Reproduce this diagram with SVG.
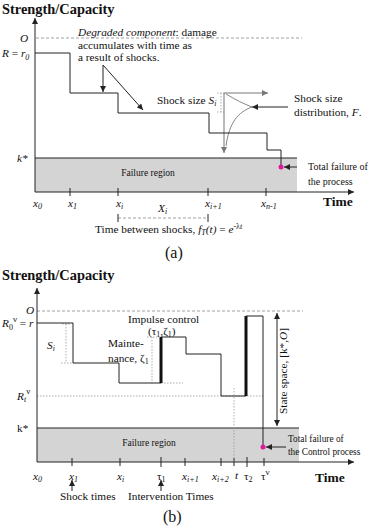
<svg xmlns="http://www.w3.org/2000/svg" width="378" height="526" viewBox="0 0 378 526" font-family="'Liberation Serif', 'DejaVu Serif', serif">
<style>
text{font-family:"Liberation Serif","DejaVu Serif",serif;fill:#111;font-size:11.3px}
.ttl{font-weight:bold;font-size:14.4px}
.tm{font-weight:bold;font-size:13.5px}
.it{font-style:italic}
.sm{font-size:10px}
.xs{font-size:9.3px}
.fr{font-size:9.5px;text-anchor:middle}
.cap{font-size:16px}
.ln{fill:none;stroke:#222;stroke-width:1}
.thick{fill:none;stroke:#111;stroke-width:3}
.dash{fill:none;stroke:#888;stroke-width:0.8;stroke-dasharray:3 2}
.dot{fill:none;stroke:#999;stroke-width:0.8;stroke-dasharray:1.5 1.5}
.gray{fill:#d4d4d4;stroke:none}
.ar{fill:none;stroke:#222;stroke-width:1;marker-end:url(#ah)}
.arg{fill:none;stroke:#777;stroke-width:1;marker-end:url(#ahg)}
.pt{fill:#e0189a}
</style>
<defs>
<marker id="ah" viewBox="0 0 10 10" refX="10" refY="5" markerWidth="7" markerHeight="6" markerUnits="userSpaceOnUse" orient="auto-start-reverse"><path d="M0,0 L10,5 L0,10 z" fill="#222"/></marker>
<marker id="ahg" viewBox="0 0 10 10" refX="10" refY="5" markerWidth="7" markerHeight="6" markerUnits="userSpaceOnUse" orient="auto"><path d="M0,0 L10,5 L0,10 z" fill="#777"/></marker>
</defs>

<g id="panel-a">
  <g id="a-axes">
    <rect class="gray" x="35" y="158" width="262" height="34"/>
    <line class="ln" x1="35" y1="158" x2="297" y2="158"/>
    <line class="dash" x1="36" y1="38" x2="302" y2="38"/>
    <path class="ar" d="M35,192 V18"/>
    <path class="ar" d="M35,192 H354"/>
    <path class="ln" d="M70,188 V196 M118,188 V196 M208,188 V196 M266,188 V196"/>
  </g>
  <g id="a-labels">
    <text class="ttl" x="2" y="14">Strength/Capacity</text>
    <text class="it" x="20" y="42">O</text>
    <text x="2" y="57"><tspan class="it">R</tspan> = <tspan class="it">r</tspan><tspan class="it" font-size="8" dy="3">0</tspan></text>
    <text class="it" x="17" y="162">k*</text>
    <text class="fr" x="148" y="176">Failure region</text>
    <text class="tm" x="323" y="206">Time</text>
    <text class="it" x="33" y="207">x<tspan font-size="8" dy="2">0</tspan></text>
    <text class="it" x="68" y="207">x<tspan font-size="8" dy="2">1</tspan></text>
    <text class="it" x="116" y="207">x<tspan font-size="8" dy="2">i</tspan></text>
    <text class="it" x="205" y="207">x<tspan font-size="8" dy="2">i+1</tspan></text>
    <text class="it" x="261" y="207">x<tspan font-size="8" dy="2">n-1</tspan></text>
    <text class="it" x="158" y="212">X<tspan font-size="8" dy="2">i</tspan></text>
    <path class="dash" d="M118,218 H208"/>
    <path class="ln" stroke="#666" d="M118,214 V222 M208,214 V222"/>
    <text x="95" y="233">Time between shocks,  <tspan class="it">f</tspan><tspan class="it" font-size="8" dy="2">T</tspan><tspan class="it" dy="-2">(t)</tspan> = <tspan class="it">e</tspan><tspan font-size="8" dy="-4">-λ</tspan><tspan class="it" font-size="8">t</tspan></text>
    <text class="cap" x="165" y="258">(a)</text>
  </g>
  <g id="a-degraded">
    <text x="78" y="36"><tspan class="it">Degraded component</tspan>: damage</text>
    <text x="78" y="48.5">accumulates with time as</text>
    <text x="78" y="61">a result of shocks.</text>
    <path class="ar" d="M103,65 V92"/>
    <path class="ar" d="M103,65 L143,110"/>
  </g>
  <g id="a-shock-size">
    <text x="157" y="104">Shock size <tspan class="it">S</tspan><tspan class="it" font-size="8" dy="2">i</tspan></text>
    <path class="dot" d="M221,93 V112 M217,93 H225 M217,112 H225"/>
    <path class="arg" d="M224,93 H268"/>
    <path class="arg" d="M224,93 V153"/>
    <path d="M226,94 C236,100 244,104 252,107 C238,112 229,123 226,146" fill="none" stroke="#777" stroke-width="0.9"/>
  </g>
  <g id="a-distribution">
    <path class="ar" d="M288,107 H252"/>
    <text x="294" y="102">Shock size</text>
    <text x="294" y="116">distribution, <tspan class="it">F</tspan>.</text>
  </g>
  <g id="a-path">
    <path class="ln" d="M35,53 H70 V93 H118 V113 H209 V133 H267 V150 H281 V167"/>
    <circle class="pt" cx="281" cy="167" r="2.5"/>
  </g>
  <g id="a-failure">
    <path class="ar" d="M297,167 H284"/>
    <text class="sm" x="308" y="170">Total failure of</text>
    <text class="sm" x="308" y="185">the process</text>
  </g>
</g>

<g id="panel-b">
  <g id="b-axes">
    <rect class="gray" x="37" y="428" width="262" height="34"/>
    <line class="ln" x1="37" y1="428" x2="299" y2="428"/>
    <line class="dash" x1="37" y1="311" x2="303" y2="311"/>
    <line class="dot" x1="37" y1="396" x2="263" y2="396"/>
    <path class="ar" d="M37,462 V288"/>
    <path class="ar" d="M37,462 H354"/>
    <path class="ln" d="M72,458 V466 M120,458 V466 M185,458 V466 M221,458 V466 M234,458 V466 M264,458 V466"/>
    <path class="ln" stroke-width="2.2" d="M161,457 V467 M247,457 V467"/>
  </g>
  <g id="b-labels">
    <text class="ttl" x="2" y="280">Strength/Capacity</text>
    <text class="it" x="26" y="314">O</text>
    <text x="2" y="327"><tspan class="it">R</tspan><tspan font-size="8" dy="3">0</tspan><tspan font-size="9" dy="-8">ν</tspan><tspan dy="5"> = </tspan><tspan class="it">r</tspan></text>
    <text x="17" y="400"><tspan class="it">R</tspan><tspan class="it" font-size="8" dy="2">t</tspan><tspan font-size="9" dy="-8">ν</tspan></text>
    <text x="17" y="432">k*</text>
    <text class="fr" x="149" y="446">Failure region</text>
    <text class="tm" x="315" y="482">Time</text>
    <text class="it" x="33" y="480">x<tspan font-size="8" dy="2">0</tspan></text>
    <text class="it" x="69" y="480">x<tspan font-size="8" dy="2">1</tspan></text>
    <text class="it" x="117" y="480">x<tspan font-size="8" dy="2">i</tspan></text>
    <text x="157" y="480">τ<tspan font-size="8" dy="2">1</tspan></text>
    <text class="it" x="182" y="480">x<tspan font-size="8" dy="2">i+1</tspan></text>
    <text class="it" x="212" y="480">x<tspan font-size="8" dy="2">i+2</tspan></text>
    <text class="it" x="235" y="479">t</text>
    <text x="244" y="480">τ<tspan font-size="8" dy="2">2</tspan></text>
    <text x="261" y="480">τ<tspan font-size="9" dy="-5">ν</tspan></text>
    <path class="ar" d="M72,491 V480"/>
    <path class="ar" d="M161,491 V480"/>
    <text x="60" y="500">Shock times</text>
    <text x="128" y="500">Intervention Times</text>
    <text class="cap" x="163" y="522">(b)</text>
  </g>
  <g id="b-shock">
    <path class="dot" d="M66,324 V363 M62,324 H70 M61,363 H73"/>
    <text class="it" x="47" y="349">S<tspan font-size="8" dy="2">i</tspan></text>
  </g>
  <g id="b-maintenance">
    <path class="dot" d="M152,337 V383 M147,337 H157 M161,383 H183"/>
    <text x="108" y="347">Mainte-</text>
    <text x="108" y="362">nance, ζ<tspan font-size="8" dy="2">1</tspan></text>
    <text x="128" y="323">Impulse control</text>
    <text x="148" y="334.5">(τ<tspan font-size="8" dy="2">1</tspan><tspan dy="-2">,ζ</tspan><tspan font-size="8" dy="2">1</tspan><tspan dy="-2">)</tspan></text>
  </g>
  <g id="b-path">
    <path class="ln" d="M37,323 H73 V363 H119 V383 H161"/>
    <path class="thick" d="M161,383 V337"/>
    <path class="ln" d="M161,337 H186 V354 H221 V396 H246"/>
    <path class="thick" d="M246,396 V316"/>
    <path class="ln" d="M246,316 H263 V447"/>
    <path class="dot" d="M234,388 V462"/>
    <circle class="pt" cx="263" cy="447" r="2.5"/>
  </g>
  <g id="b-state-space">
    <path class="ln" d="M277,313 V426" marker-start="url(#ah)" marker-end="url(#ah)"/>
    <text x="0" y="0" transform="translate(287,371) rotate(-90)" text-anchor="middle" font-size="11">State space, [k*,<tspan class="it">O</tspan>]</text>
  </g>
  <g id="b-failure">
    <path class="ar" d="M286,447 H266"/>
    <text class="xs" x="288" y="442">Total failure of</text>
    <text class="xs" x="288" y="455">the Control process</text>
  </g>
</g>
</svg>
